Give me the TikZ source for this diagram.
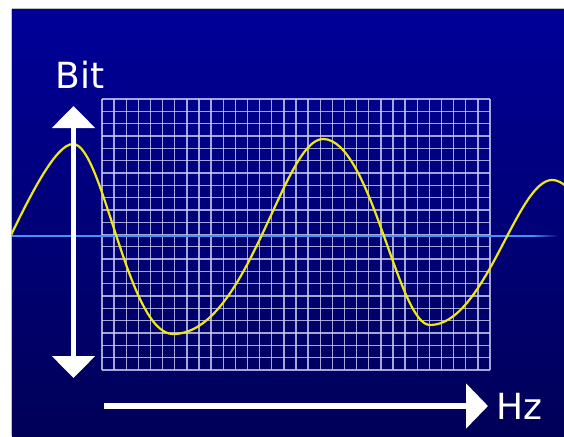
\documentclass[tikz,border=0pt]{standalone}
\usepackage{fontspec}
\setmainfont{DejaVu Sans}
\usetikzlibrary{arrows.meta}
\definecolor{bgtop}{RGB}{0,0,152}
\definecolor{bgbot}{RGB}{0,0,88}
\definecolor{gridc}{RGB}{205,205,245}
\definecolor{axisc}{RGB}{75,145,245}
\definecolor{wavec}{RGB}{240,232,20}
\tikzset{
  gridline/.style={gridc, line width=1.3pt, opacity=0.8},
  axisline/.style={axisc, line width=2pt},
  wavepath/.style={wavec, line width=2.2pt},
  bigarrow/.style={white, line width=5.5pt,
    {Triangle[width=42pt,length=22pt]}-{Triangle[width=42pt,length=22pt]}},
  onearrow/.style={white, line width=5.5pt, -{Triangle[width=44pt,length=22pt]}},
  label/.style={white, font=\fontsize{36}{40}\selectfont, anchor=base, inner sep=0pt}
}
\begin{document}
\begin{tikzpicture}[x=1pt,y=-1pt]
\useasboundingbox (0,0) rectangle (564,436);
\fill[white] (0,0) rectangle (564,436);
\shade[top color=bgtop, bottom color=bgbot] (12,9) rectangle (564,436);
\draw[gray!50, line width=0.8pt] (12,8.6) -- (564,8.6);
\draw[gray!50, line width=0.8pt] (11.6,9) -- (11.6,436);
% grid
\foreach \i in {0,...,32}
  \draw[gridline] ({102+\i*12.125},99) -- ({102+\i*12.125},370);
\foreach \j in {0,...,22}
  \draw[gridline] (102,{99+\j*12.318}) -- (490,{99+\j*12.318});
% horizontal axis line
\coordinate (axL) at (12,235.5);
\coordinate (axR) at (532,235.5);
\draw[axisline] (axL) -- (axR);
\foreach \k in {0,...,12}
  \draw[axisline, opacity={1-\k/13}] ({532+\k*2},235.5) -- ({534+\k*2},235.5);
% wave
\begin{scope}
\clip (12,9) rectangle (564,436);
\draw[wavepath] (-45,334) .. controls (-25,334) and (40,144) .. (73,144)
  .. controls (103,144) and (128,334) .. (173,334)
  .. controls (248,334) and (283,139) .. (323,139)
  .. controls (371,139) and (398,325) .. (430,325)
  .. controls (485,325) and (517,180) .. (552,180)
  .. controls (560,180) and (566,186) .. (572,192);
\end{scope}
% arrows
\coordinate (bitTop) at (73.5,106);
\coordinate (bitBot) at (73.5,378);
\coordinate (hzL) at (104,406);
\coordinate (hzR) at (488,406);
\draw[bigarrow] (bitTop) -- (bitBot);
\draw[onearrow] (hzL) -- (hzR);
% labels
\node[label] (bit) at (80,88) {Bit};
\node[label] (hz) at (519.5,419) {Hz};
\end{tikzpicture}
\end{document}
